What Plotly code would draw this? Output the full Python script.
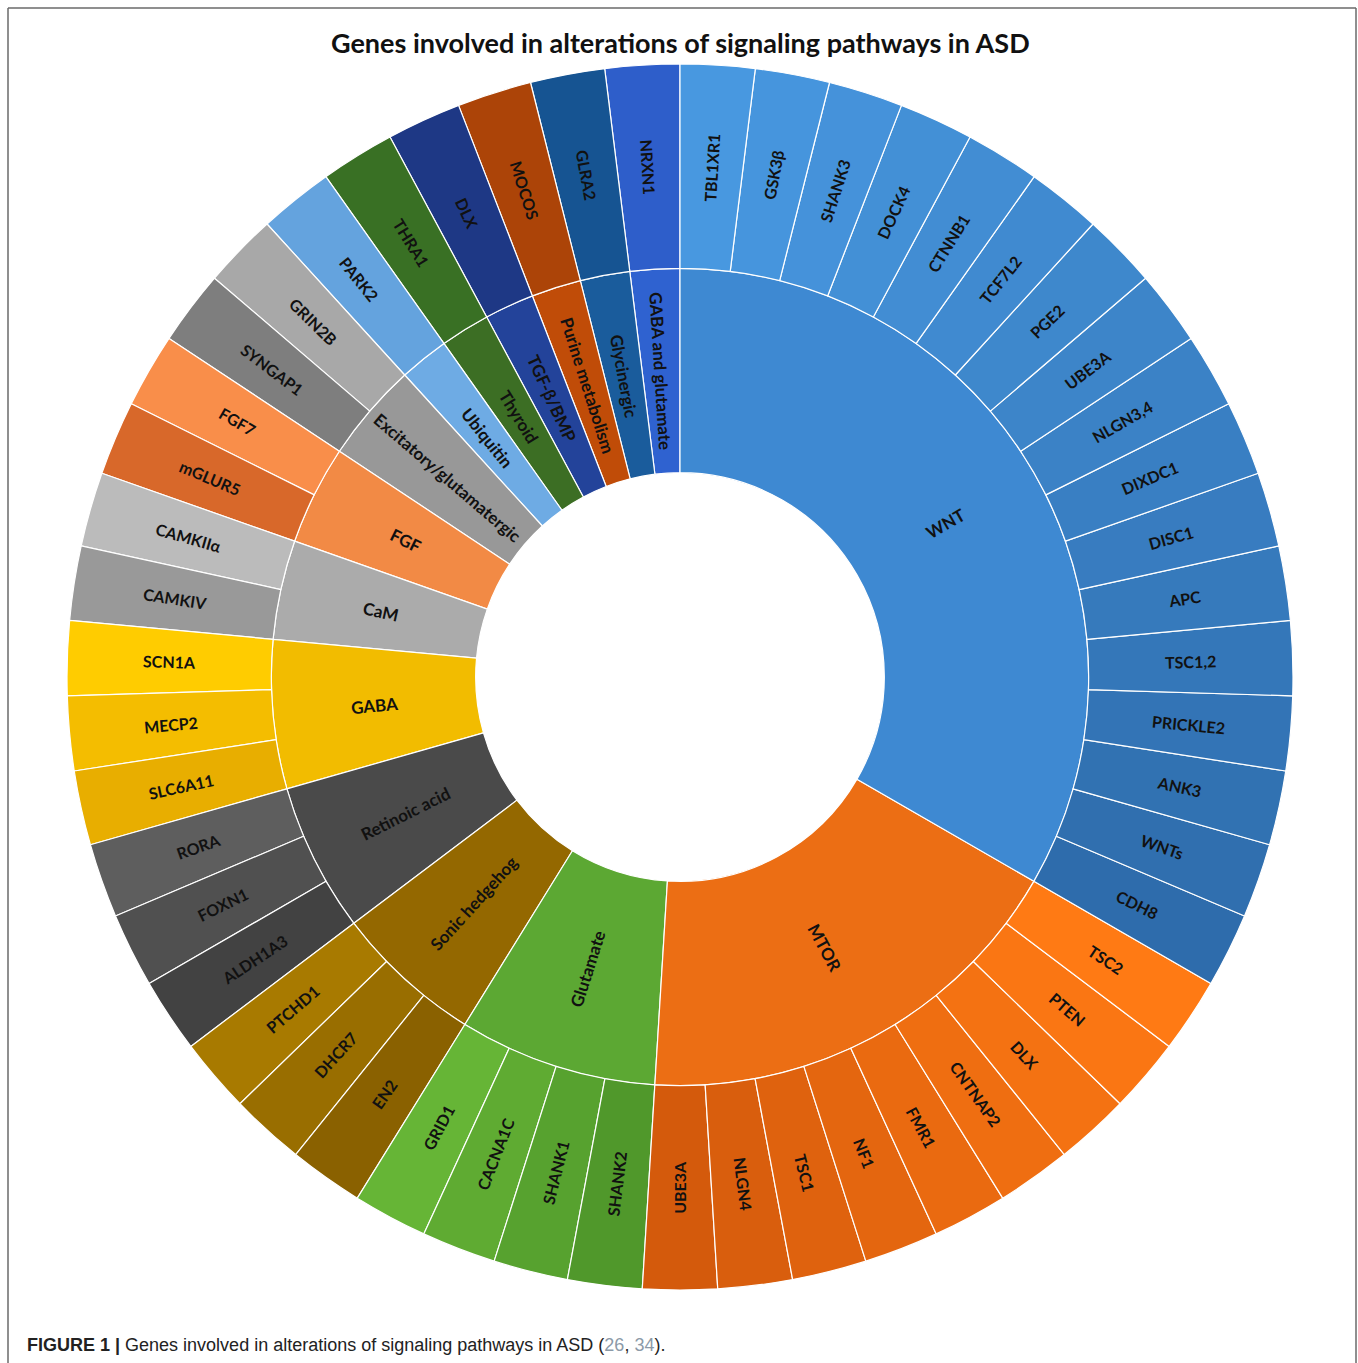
import math
import plotly.graph_objects as go

W, H = 1358, 1363

pathways = ["WNT", "MTOR", "Glutamate", "Sonic hedgehog", "Retinoic acid", "GABA", "CaM", "FGF",
            "Excitatory/glutamatergic", "Ubiquitin", "Thyroid", "TGF-β/BMP", "Purine metabolism",
            "Glycinergic", "GABA and glutamate"]

genes_wnt = ["TBL1XR1", "GSK3β", "SHANK3", "DOCK4", "CTNNB1", "TCF7L2", "PGE2", "UBE3A", "NLGN3,4",
             "DIXDC1", "DISC1", "APC", "TSC1,2", "PRICKLE2", "ANK3", "WNTs", "CDH8"]
genes_mtor = ["TSC2", "PTEN", "DLX", "CNTNAP2", "FMR1", "NF1", "TSC1", "NLGN4", "UBE3A"]
genes_glutamate = ["SHANK2", "SHANK1", "CACNA1C", "GRID1"]
genes_shh = ["EN2", "DHCR7", "PTCHD1"]
genes_retinoic = ["ALDH1A3", "FOXN1", "RORA"]
genes_gaba = ["SLC6A11", "MECP2", "SCN1A"]
genes_cam = ["CAMKIV", "CAMKIIα"]
genes_fgf = ["mGLUR5", "FGF7"]
genes_excit = ["SYNGAP1", "GRIN2B"]
genes_ubiq = ["PARK2"]
genes_thyroid = ["THRA1"]
genes_tgf = ["DLX"]
genes_purine = ["MOCOS"]
genes_glycine = ["GLRA2"]
genes_gabaglu = ["NRXN1"]

gene_lists = [genes_wnt, genes_mtor, genes_glutamate, genes_shh, genes_retinoic, genes_gaba,
              genes_cam, genes_fgf, genes_excit, genes_ubiq, genes_thyroid, genes_tgf,
              genes_purine, genes_glycine, genes_gabaglu]
gene_weight = 1  # every gene counts once

# style: (inner colour, outer light, outer dark)
styles = {
    "WNT": ("#3E89D2", "#4898E0", "#2E6CAC"),
    "MTOR": ("#EC6E14", "#FF7A14", "#D45A0C"),
    "Glutamate": ("#5CA833", "#66B536", "#50982B"),
    "Sonic hedgehog": ("#946800", "#A87A00", "#8A6100"),
    "Retinoic acid": ("#4A4A4A", "#5E5E5E", "#424242"),
    "GABA": ("#F2BC00", "#FFCC00", "#E8AE00"),
    "CaM": ("#ABABAB", "#BBBBBB", "#999999"),
    "FGF": ("#F28A45", "#F98E4A", "#D8682A"),
    "Excitatory/glutamatergic": ("#989898", "#A8A8A8", "#7E7E7E"),
    "Ubiquitin": ("#6EABE4", "#6AAAE4", "#5592D0"),
    "Thyroid": ("#3C6E24", "#3E7A28", "#2E5A1C"),
    "TGF-β/BMP": ("#23439A", "#1F3C8E", "#1A2F70"),
    "Purine metabolism": ("#C04C08", "#B4480A", "#9A3A05"),
    "Glycinergic": ("#1A5C9C", "#17589A", "#124A80"),
    "GABA and glutamate": ("#2F62D0", "#3062D2", "#2A55B8"),
}

font_family = "Lato, 'Open Sans', sans-serif"

# geometry of the diagram (pixels)
CX, CY, R_OUT = 680, 677, 613
R_MID_INNER = R_OUT * 0.5          # middle of the pathway ring (hole = ring width = R_OUT/3)
R_MID_OUTER = R_OUT * 5.0 / 6.0    # middle of the gene ring


def mix(c1, c2, t):
    a = [int(c1[i:i + 2], 16) for i in (1, 3, 5)]
    b = [int(c2[i:i + 2], 16) for i in (1, 3, 5)]
    return "rgb(%d,%d,%d)" % tuple(round(a[k] + (b[k] - a[k]) * t) for k in range(3))


def radial_label(text, theta, r, size):
    rad = math.radians(theta)
    px = CX + r * math.sin(rad)
    py = CY - r * math.cos(rad)
    ang = theta - 90 if theta < 180 else theta - 270
    return dict(text="<b>%s</b>" % text, x=px / W, y=1 - py / H, xref="paper", yref="paper",
                showarrow=False, xanchor="center", yanchor="middle", textangle=ang,
                font=dict(family=font_family, size=size, color="#111111"))


total = sum(len(gl) for gl in gene_lists) * gene_weight
annotations = []
mid_angle = {}
cum = 0
for p, gl in zip(pathways, gene_lists):
    n = len(gl) * gene_weight
    mid_angle[p] = 360.0 * (cum + n / 2) / total  # clockwise from 12 o'clock
    annotations.append(radial_label(p, mid_angle[p], R_MID_INNER, 17))
    for i, g in enumerate(gl):
        th = 360.0 * (cum + (i + 0.5) * gene_weight) / total
        annotations.append(radial_label(g, th, R_MID_OUTER, 16))
    cum += n

ids, labels, parents, values, colors = ["root"], [""], [""], [0], ["white"]
# plotly lays sectors out counter-clockwise, reference goes clockwise -> reverse order
for p, gl in reversed(list(zip(pathways, gene_lists))):
    inner, light, dark = styles[p]
    ids.append(p)
    labels.append(p)
    parents.append("root")
    values.append(0)
    colors.append(inner)
    n = len(gl)
    left_side = mid_angle[p] > 180
    for i, g in reversed(list(enumerate(gl))):
        ids.append(p + "/" + g)
        labels.append(g)
        parents.append(p)
        values.append(gene_weight)
        t = i / (n - 1) if n > 1 else 0.3
        if left_side and n > 1:
            t = 1 - t
        colors.append(mix(light, dark, t))

fig = go.Figure(go.Sunburst(
    ids=ids, labels=labels, parents=parents, values=values,
    branchvalues="remainder", sort=False, rotation=90,
    marker=dict(colors=colors, line=dict(color="white", width=1.2)),
    leaf=dict(opacity=1),
    textinfo="none",
    hoverinfo="label",
    domain=dict(x=[(CX - R_OUT) / W, (CX + R_OUT) / W], y=[1 - (CY + R_OUT) / H, 1 - (CY - R_OUT) / H]),
))

shapes = [
    dict(type="line", xref="paper", yref="paper", x0=8 / W, x1=1356 / W, y0=1 - 8 / H, y1=1 - 8 / H,
         line=dict(color="#6a6a6a", width=1.5)),
    dict(type="line", xref="paper", yref="paper", x0=8 / W, x1=8 / W, y0=1 - 8 / H, y1=0,
         line=dict(color="#6a6a6a", width=1.5)),
    dict(type="line", xref="paper", yref="paper", x0=1356 / W, x1=1356 / W, y0=1 - 8 / H, y1=0,
         line=dict(color="#6a6a6a", width=1.5)),
]

annotations += [
    dict(text="<b>Genes involved in alterations of signaling pathways in ASD</b>",
         x=680 / W, y=1 - 42 / H, xref="paper", yref="paper", showarrow=False,
         xanchor="center", yanchor="middle",
         font=dict(family=font_family, size=27, color="#111111")),
    dict(text="<b>FIGURE 1 |</b> Genes involved in alterations of signaling pathways in ASD "
              "(<span style='color:#8c9aa8'>26</span>, <span style='color:#8c9aa8'>34</span>).",
         x=25 / W, y=1 - 1345 / H, xref="paper", yref="paper", showarrow=False,
         xanchor="left", yanchor="middle",
         font=dict(family="'Liberation Sans Narrow', 'Liberation Sans', Arial, sans-serif", size=18,
                   color="#222222")),
]

fig.update_layout(
    width=W, height=H, margin=dict(l=0, r=0, t=0, b=0),
    paper_bgcolor="white", plot_bgcolor="white",
    shapes=shapes, annotations=annotations, showlegend=False,
)

fig.write_html("out.html")
